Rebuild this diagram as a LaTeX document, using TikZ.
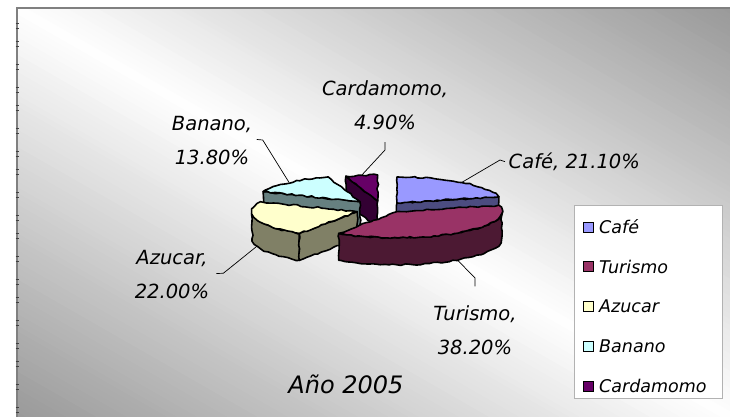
\documentclass[tikz,border=0pt]{standalone}
\usepackage{fontspec}
\setmainfont{DejaVu Sans}
\usetikzlibrary{positioning,decorations.pathmorphing}

\definecolor{cafetop}{HTML}{9999FF}
\definecolor{cafeside}{HTML}{4C4C80}
\definecolor{turtop}{HTML}{993366}
\definecolor{turside}{HTML}{4C1933}
\definecolor{azutop}{HTML}{FFFFCC}
\definecolor{azuside}{HTML}{808066}
\definecolor{bantop}{HTML}{CCFFFF}
\definecolor{banside}{HTML}{668080}
\definecolor{cartop}{HTML}{660066}
\definecolor{carside}{HTML}{330033}

\def\pieR{105}
\def\pier{26}
\def\pieh{27}

\begin{document}
\begin{tikzpicture}
	[x=1pt,y=1pt,
	 slice/.style={draw=black, line width=1.6pt, line join=round,
	   decorate, decoration={random steps, segment length=4pt, amplitude=0.8pt}},
	 rim/.style={x radius=\pieR, y radius=\pier},
	 lbl/.style={font=\fontsize{19.5}{34}\selectfont\itshape, align=center, inner sep=0pt},
	 leader/.style={draw=black, line width=0.7pt},
	 key/.style={draw=black, line width=1pt, minimum size=10pt, inner sep=0pt},
	 keytext/.style={font=\fontsize{17.5}{20}\selectfont\itshape, anchor=base west, inner sep=0pt}]
	\useasboundingbox (0,0) rectangle (730,417);
	\pgfmathsetseed{7}
	% background and frame
	\begin{scope}
	\clip (17,0) rectangle (730,409);
	\begin{scope}[shift={(373.5,204.5)}, rotate=-29.8]
	\foreach \t in {-360,-355,...,355}
	{
		\pgfmathtruncatemacro\p{min(80,round(abs(\t+2.5)/355*80))}
		\fill[gray!\p] (-520,\t) rectangle (520,\t+5.6);
	}
	\end{scope}
	\end{scope}
	\draw[gray, line width=2pt] (17,0) -- (17,409) -- (730,409);
	\foreach \k in {0,...,6}
	\foreach \d in {0,5,18.3,23.3,41,46}
	\draw[darkgray, line width=1pt] (15.5,{417-23.3-64*\k-\d}) -- ++(3,0);
	
	% slice apexes
	\coordinate (car) at (377.7,216);
	\coordinate (ban) at (360,215.3);
	\coordinate (caf) at (397,214);
	\coordinate (azu) at (357.3,205.3);
	\coordinate (tur) at (396.7,205.3);
	
	% Cardamomo
	\filldraw[slice, fill=carside] (car) -- ([shift={(car)}]107.64:105 and 26) -- ++(0,-\pieh) -- ([shift={(car)}]0,-\pieh) -- cycle;
	\filldraw[slice, fill=cartop] (car) -- ([shift={(car)}]90:105 and 26) arc[rim, start angle=90, end angle=107.64] -- cycle;
	% Banano
	\filldraw[slice, fill=banside] (ban) -- ([shift={(ban)}]157.32:105 and 26) -- ++(0,-\pieh) -- ([shift={(ban)}]0,-\pieh) -- cycle;
	\filldraw[slice, fill=bantop] (ban) -- ([shift={(ban)}]107.64:105 and 26) arc[rim, start angle=107.64, end angle=157.32] -- cycle;
	% Cafe
	\filldraw[slice, fill=cafeside] (caf) -- ([shift={(caf)}]14.04:105 and 26) -- ++(0,-\pieh) -- ([shift={(caf)}]0,-\pieh) -- cycle;
	\filldraw[slice, fill=cafetop] (caf) -- ([shift={(caf)}]14.04:105 and 26) arc[rim, start angle=14.04, end angle=90] -- cycle;
	% Azucar
	\filldraw[slice, fill=azuside] ([shift={(azu)}]180:105 and 26) arc[rim, start angle=180, end angle=236.52] -- ++(0,-\pieh) arc[rim, start angle=236.52, end angle=180] -- cycle;
	\filldraw[slice, fill=azuside] (azu) -- ([shift={(azu)}]236.52:105 and 26) -- ++(0,-\pieh) -- ([shift={(azu)}]0,-\pieh) -- cycle;
	\filldraw[slice, fill=azutop] (azu) -- ([shift={(azu)}]157.32:105 and 26) arc[rim, start angle=157.32, end angle=236.52] -- cycle;
	% Turismo
	\filldraw[slice, fill=turside] ([shift={(tur)}]236.52:105 and 26) arc[rim, start angle=236.52, end angle=360] -- ++(0,-\pieh) arc[rim, start angle=360, end angle=236.52] -- cycle;
	\filldraw[slice, fill=turtop] (tur) -- ([shift={(tur)}]236.52:105 and 26) arc[rim, start angle=236.52, end angle=374.04] -- cycle;
	
	% labels
	\node[lbl] (lcar) at (385,311.5) {Cardamomo,\\4.90\%};
	\node[lbl] (lban) at (212,276) {Banano,\\13.80\%};
	\node[lbl, anchor=base west] (lcaf) at (508.5,248.7) {Café, 21.10\%};
	\node[lbl] (ltur) at (475,87) {Turismo,\\38.20\%};
	\node[lbl] (lazu) at (172,142.5) {Azucar,\\22.00\%};
	\node[font=\fontsize{24}{28}\selectfont\itshape, anchor=base, inner sep=0pt] (title) at (346,23) {Año 2005};
	
	% leader lines
	\coordinate (car-rim) at ([shift={(car)}]98.82:105 and 26);
	\coordinate (ban-rim) at ([shift={(ban)}]132.48:105 and 26);
	\coordinate (caf-rim) at ([shift={(caf)}]52.02:105 and 26);
	\coordinate (tur-rim) at ([shift={(tur)},shift={(0,-\pieh)}]-54.72:105 and 26);
	\coordinate (azu-rim) at ([shift={(azu)},shift={(0,-\pieh)}]196.92:105 and 26);
	\coordinate (car-elbow) at (385,267);
	\coordinate (ban-elbow) at (262.7,277);
	\coordinate (caf-elbow) at (500,257);
	\coordinate (tur-elbow) at (475,139);
	\coordinate (azu-elbow) at (223.3,143.7);
	\draw[leader] ([yshift=-12pt]lcar.south) -- (car-elbow) -- (car-rim);
	\draw[leader] ([xshift=4.5pt,yshift=1.5pt]lban.east) -- (ban-elbow) -- (ban-rim);
	\draw[leader] ([xshift=-3.5pt]lcaf.west) -- (caf-elbow) -- (caf-rim);
	\draw[leader] ([yshift=19pt]ltur.north) -- (tur-elbow) -- (tur-rim);
	\draw[leader] ([xshift=7pt,yshift=1pt]lazu.east) -- (azu-elbow) -- (azu-rim);
	
	% legend
	\draw[gray!60, line width=0.8pt, fill=white] (574,212) rectangle (722,19);
	\foreach \name/\col [count=\i] in {Café/cafetop,Turismo/turtop,Azucar/azutop,Banano/bantop,Cardamomo/cartop}
	{
		\node[key, fill=\col] (key\i) at (588,{229.7-39.75*\i}) {};
		\node[keytext] (txt\i) at (599,{229.7-39.75*\i-6.3}) {\name};
	}
\end{tikzpicture}
\end{document}
